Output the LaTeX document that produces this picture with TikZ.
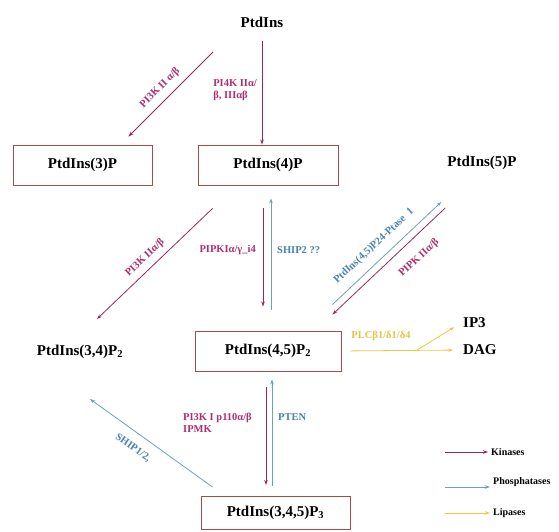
\documentclass[tikz,border=0pt]{standalone}
\usepackage{fontspec}
\setmainfont{Liberation Serif}
\usepackage{xcolor}
\usetikzlibrary{arrows.meta}
\definecolor{kincol}{RGB}{150,40,95}
\definecolor{kintxt}{RGB}{175,45,110}
\definecolor{phocol}{RGB}{110,160,185}
\definecolor{photxt}{RGB}{70,130,180}
\definecolor{lipcol}{RGB}{240,200,60}
\definecolor{liptxt}{RGB}{230,195,70}
\definecolor{boxcol}{RGB}{170,75,75}

\begin{document}
\begin{tikzpicture}[
  x=1pt, y=1pt,
  lipid/.style={font=\fontsize{15}{17}\selectfont\bfseries, inner sep=2pt},
  lipidbox/.style={lipid, draw=boxcol, line width=0.9pt, minimum height=40pt},
  kin/.style={draw=kincol, line width=0.8pt, -{Stealth[length=5pt, width=3.5pt]}},
  pho/.style={draw=phocol, line width=0.8pt, -{Stealth[length=5pt, width=3.5pt]}},
  lip/.style={draw=lipcol, line width=0.8pt, -{Stealth[length=5pt, width=3.5pt]}},
  klab/.style={font=\fontsize{10.5}{12.5}\selectfont\bfseries, text=kintxt, inner sep=1pt},
  plab/.style={font=\fontsize{10.5}{12.5}\selectfont\bfseries, text=photxt, inner sep=1pt},
  llab/.style={font=\fontsize{10.5}{12.5}\selectfont\bfseries, text=liptxt, inner sep=1pt},
  legend/.style={font=\fontsize{10}{12}\selectfont\bfseries, anchor=west, inner sep=3pt}
]
\useasboundingbox (0,0) rectangle (559,532);

% --- phosphoinositides ---
\node[lipid] (ptdins) at (262,510) {PtdIns};
\node[lipidbox, minimum width=139pt] (p3) at (82.5,367) {PtdIns(3)P};
\node[lipidbox, minimum width=140pt] (p4) at (268,367) {PtdIns(4)P};
\node[lipid] (p5) at (482,369) {PtdIns(5)P};
\node[lipid] (p34) at (80,180) {PtdIns(3,4)P\textsubscript{2}};
\node[lipidbox, minimum width=146pt] (p45) at (268,181) {PtdIns(4,5)P\textsubscript{2}};
\node[lipidbox, minimum width=149pt, minimum height=33pt] (p345) at (275.5,19) {PtdIns(3,4,5)P\textsubscript{3}};
\node[lipid, anchor=west] (ip3) at (461,209) {IP3};
\node[lipid, anchor=west] (dag) at (461,182) {DAG};

% --- from PtdIns ---
\draw[kin, shorten <=12pt] (ptdins.south) -- (ptdins.south |- p4.north);
\node[klab, anchor=east, align=left] (pi4k) at (258,442) {PI4K IIα/\\β, IIIαβ};
\draw[kin] ([shift={(-49,-30)}]ptdins.center) -- ([shift={(-24,8)}]p3.north east);
\node[klab, rotate=45] (pi3k2) at (160,444) {PI3K II α/β};

% --- PtdIns(4)P <-> PtdIns(4,5)P2 ---
\draw[kin, shorten <=23pt, shorten >=24pt] ([xshift=-5pt]p4.south) -- ([xshift=-5pt]p45.north);
\draw[pho, shorten <=21pt, shorten >=13pt] ([xshift=3pt]p45.north) -- ([xshift=3pt]p4.south);
\node[klab, anchor=east] (pipki) at (257,282) {PIPKIα/γ\_i4};
\node[plab, anchor=west] (ship2) at (276,282) {SHIP2 ??};

% --- PtdIns(4)P -> PtdIns(3,4)P2 ---
\draw[kin] ([shift={(15,-23)}]p4.south west) -- ([shift={(17,24)}]p34.north);
\node[klab, rotate=43] (pi3k2b) at (145,274) {PI3K IIα/β};

% --- PtdIns(5)P <-> PtdIns(4,5)P2 ---
\draw[pho] ([shift={(-9,26)}]p45.north east) -- ([shift={(-4,-30)}]p5.south west);
\draw[kin] ([shift={(0,-36)}]p5.south west) -- ([shift={(-9,16)}]p45.north east);
\node[plab, rotate=43] (ptase) at (374,286) {PtdIns(4,5)P24-Ptase\ \ 1};
\node[klab, rotate=43] (pipk2) at (419,274) {PIPK IIα/β};

% --- lipases ---
\coordinate (plcfork) at ([xshift=74pt]p45.east);
\draw[lip, shorten <=9pt, shorten >=8pt] (p45.east) -- (dag.west);
\draw[lip, shorten >=8pt] (plcfork) -- (ip3.west);
\node[llab] (plc) at (381,196) {PLCβ1/δ1/δ4};

% --- PtdIns(4,5)P2 <-> PtdIns(3,4,5)P3 ---
\draw[kin, shorten <=16pt] ([xshift=-2pt]p45.south) -- ([xshift=-2pt, yshift=11pt]p45.south |- p345.north);
\draw[pho, shorten <=10pt] ([xshift=-3.5pt]p345.north) -- ([xshift=4pt, yshift=-8pt]p45.south);
\node[klab, anchor=west, align=left] (pi3k1) at (182,109) {PI3K I p110α/β\\IPMK};
\node[plab, anchor=west] (pten) at (277,115) {PTEN};

% --- PtdIns(3,4,5)P3 -> PtdIns(3,4)P2 ---
\draw[pho] ([shift={(12,9)}]p345.north west) -- ([shift={(10,-38)}]p34.south);
\node[plab, rotate=-35] (ship1) at (133,84) {SHIP1/2,};

% --- legend ---
\node[legend] (lkin) at (488,80) {Kinases};
\node[legend] (lpho) at (490,50) {Phosphatases};
\node[legend] (llip) at (490,19) {Lipases};
\coordinate (lk) at (445,80);
\coordinate (lp) at (445,45);
\coordinate (ll) at (445,19);
\draw[kin] (lk) -- (lkin.west);
\draw[pho] (lp) -- (lp -| lpho.west);
\draw[lip] (ll) -- (llip.west);
\end{tikzpicture}
\end{document}
